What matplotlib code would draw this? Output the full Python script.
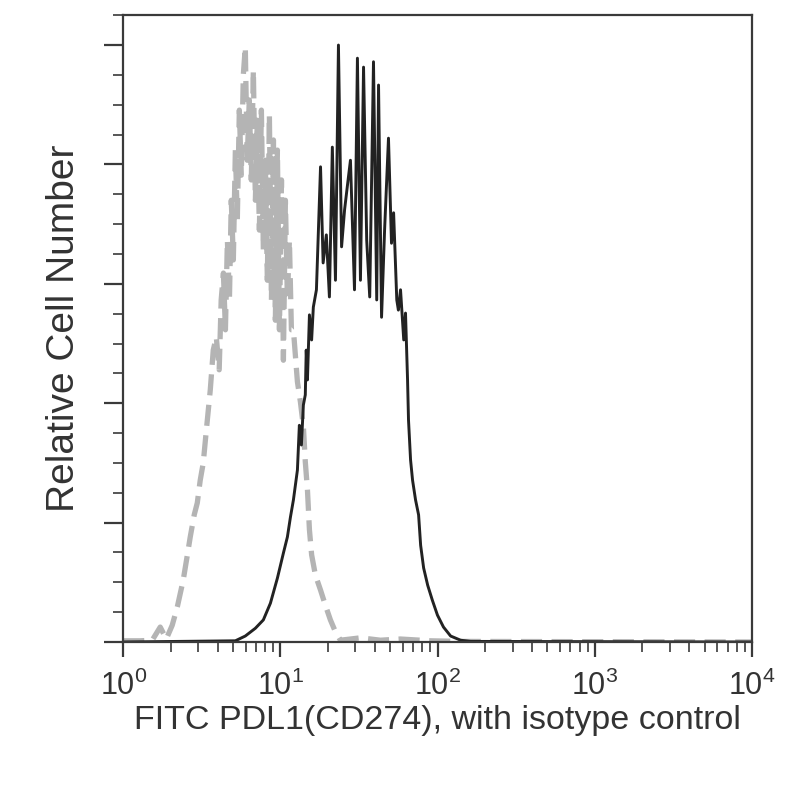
import numpy as np
import matplotlib
matplotlib.use('Agg')
import matplotlib.pyplot as plt
from matplotlib.ticker import LogLocator, MultipleLocator, NullFormatter

plt.rcParams['font.family'] = ['Liberation Sans', 'DejaVu Sans']
plt.rcParams['mathtext.fontset'] = 'custom'
plt.rcParams['mathtext.rm'] = 'Liberation Sans'
plt.rcParams['mathtext.it'] = 'Liberation Sans'

# PDL1 stained sample (solid black)
pdl1_x = [1.0, 5.17, 5.98, 6.93, 7.79, 8.64, 9.57, 10.45, 11.08, 11.58, 12.10,
          12.83, 13.2, 13.6, 14.0, 14.4, 14.6, 14.86, 15.3, 15.8, 16.2, 16.95,
          18.0, 18.7, 19.6, 20.5, 21.4, 22.4, 23.4, 24.5, 25.6, 26.7, 27.9,
          29.6, 30.9, 32.3, 33.8, 35.4, 37.0, 39.1, 41.0, 42.1, 44.0, 46.0,
          48.7, 50.9, 52.5, 55.0, 56.3, 58.1, 60.9, 62.5, 64.4, 65.3, 67.3,
          69.3, 72.4, 75.7, 78.0, 81.5, 86.5, 92.6, 99.8, 109, 121, 140, 162,
          10000]
pdl1_y = [0, 0.2, 1.0, 2.3, 3.7, 6.5, 10.7, 14.9, 17.6, 20.9, 23.8,
          28.8, 36.3, 33.0, 39.7, 41.4, 48.9, 43.9, 54.8, 50.6, 56.1, 59.0,
          79.6, 63.5, 68.2, 57.8, 82.9, 60.6, 100.0, 66.2, 72.4, 76.5, 80.7,
          59.0, 97.8, 60.6, 96.3, 67.3, 57.8, 97.2, 57.3, 93.3, 54.4, 69.0,
          84.4, 66.8, 71.9, 57.3, 55.6, 59.0, 50.6, 55.1, 43.9, 37.2, 30.5,
          27.1, 23.8, 21.3, 16.2, 12.4, 9.5, 7.0, 4.5, 2.5, 1.0, 0.3, 0.1,
          0]

# isotype control (grey dashed)
iso_x = [1.0, 1.28, 1.53, 1.72, 1.88, 2.05, 2.21, 2.41, 2.56, 2.67, 2.83,
         2.96, 3.09, 3.23, 3.38, 3.48, 3.58, 3.74, 3.91, 4.08, 4.2, 4.34,
         4.47, 4.60, 4.74, 4.87, 5.02, 5.17, 5.32, 5.48, 5.64, 5.81, 5.98,
         6.15, 6.34, 6.53, 6.73, 6.93, 7.13, 7.35, 7.57, 7.79, 8.02, 8.26,
         8.51, 8.77, 9.03, 9.29, 9.57, 9.86, 10.16, 10.45, 10.76, 11.08,
         11.41, 11.75, 12.10, 12.83, 13.41, 14.01, 14.4, 14.86, 15.3, 15.8,
         16.7, 18.0, 19.3, 20.8, 22.4, 24.1, 32.3, 43.3, 58.0, 90.0, 140,
         10000]
iso_y = [0.2, 0.2, 0.3, 2.5, 0.5, 2.8, 5.9, 10.4, 14.6, 17.6, 21.3,
         23.3, 27.1, 30.0, 35.5, 38.9, 42.2, 48.9, 51.1, 45.6, 57.3, 61.8,
         52.3, 67.3, 57.3, 74.0, 64.0, 82.4, 70.7, 89.1, 78.2, 95.0, 99.7,
         80.7, 90.8, 77.4, 95.8, 74.0, 87.4, 69.0, 89.1, 65.7, 80.7, 60.6,
         88.3, 57.3, 84.1, 53.9, 82.4, 52.3, 77.4, 47.2, 74.0, 57.3,
         67.3, 52.3, 52.3, 43.6, 40.2, 36.0, 30.2, 25.5, 18.8, 14.6,
         11.2, 8.7, 6.2, 3.7, 1.7, 0.3, 0.7, 0.3, 0.5, 0.2, 0.1,
         0]

x_label = 'FITC PDL1(CD274), with isotype control'
y_label = 'Relative Cell Number'

fig = plt.figure(figsize=(8, 8), dpi=100)
ax = fig.add_axes([0.154, 0.1975, 0.786, 0.7835])

ax.plot(iso_x, iso_y, color='#b4b4b4', lw=3.8, linestyle=(0, (4, 1.8)),
        solid_joinstyle='miter')
ax.plot(pdl1_x, pdl1_y, color='#222222', lw=2.1)

ax.set_xscale('log')
ax.set_xlim(1, 10000)
ax.set_ylim(0, 105)

ax.xaxis.set_major_locator(LogLocator(base=10, numticks=10))
ax.xaxis.set_minor_locator(LogLocator(base=10, subs=np.arange(2, 10), numticks=10))
ax.xaxis.set_minor_formatter(NullFormatter())
ax.yaxis.set_major_locator(MultipleLocator(20))
ax.yaxis.set_minor_locator(MultipleLocator(5))
ax.set_yticklabels([])

for s in ax.spines.values():
    s.set_linewidth(1.6)
    s.set_color('#3a3a3a')

ax.tick_params(axis='x', which='major', length=11, width=1.6, color='#3a3a3a',
               labelsize=22, pad=10, labelcolor='#333333')
ax.tick_params(axis='x', which='minor', length=7, width=1.2, color='#3a3a3a')
ax.tick_params(axis='y', which='major', length=14, width=1.6, color='#3a3a3a')
ax.tick_params(axis='y', which='minor', length=7, width=1.2, color='#3a3a3a')

ax.set_xlabel(x_label, fontsize=24.5, color='#333333', labelpad=2)
ax.set_ylabel(y_label, fontsize=28, color='#333333', labelpad=12)

fig.savefig('out.png', dpi=100)
